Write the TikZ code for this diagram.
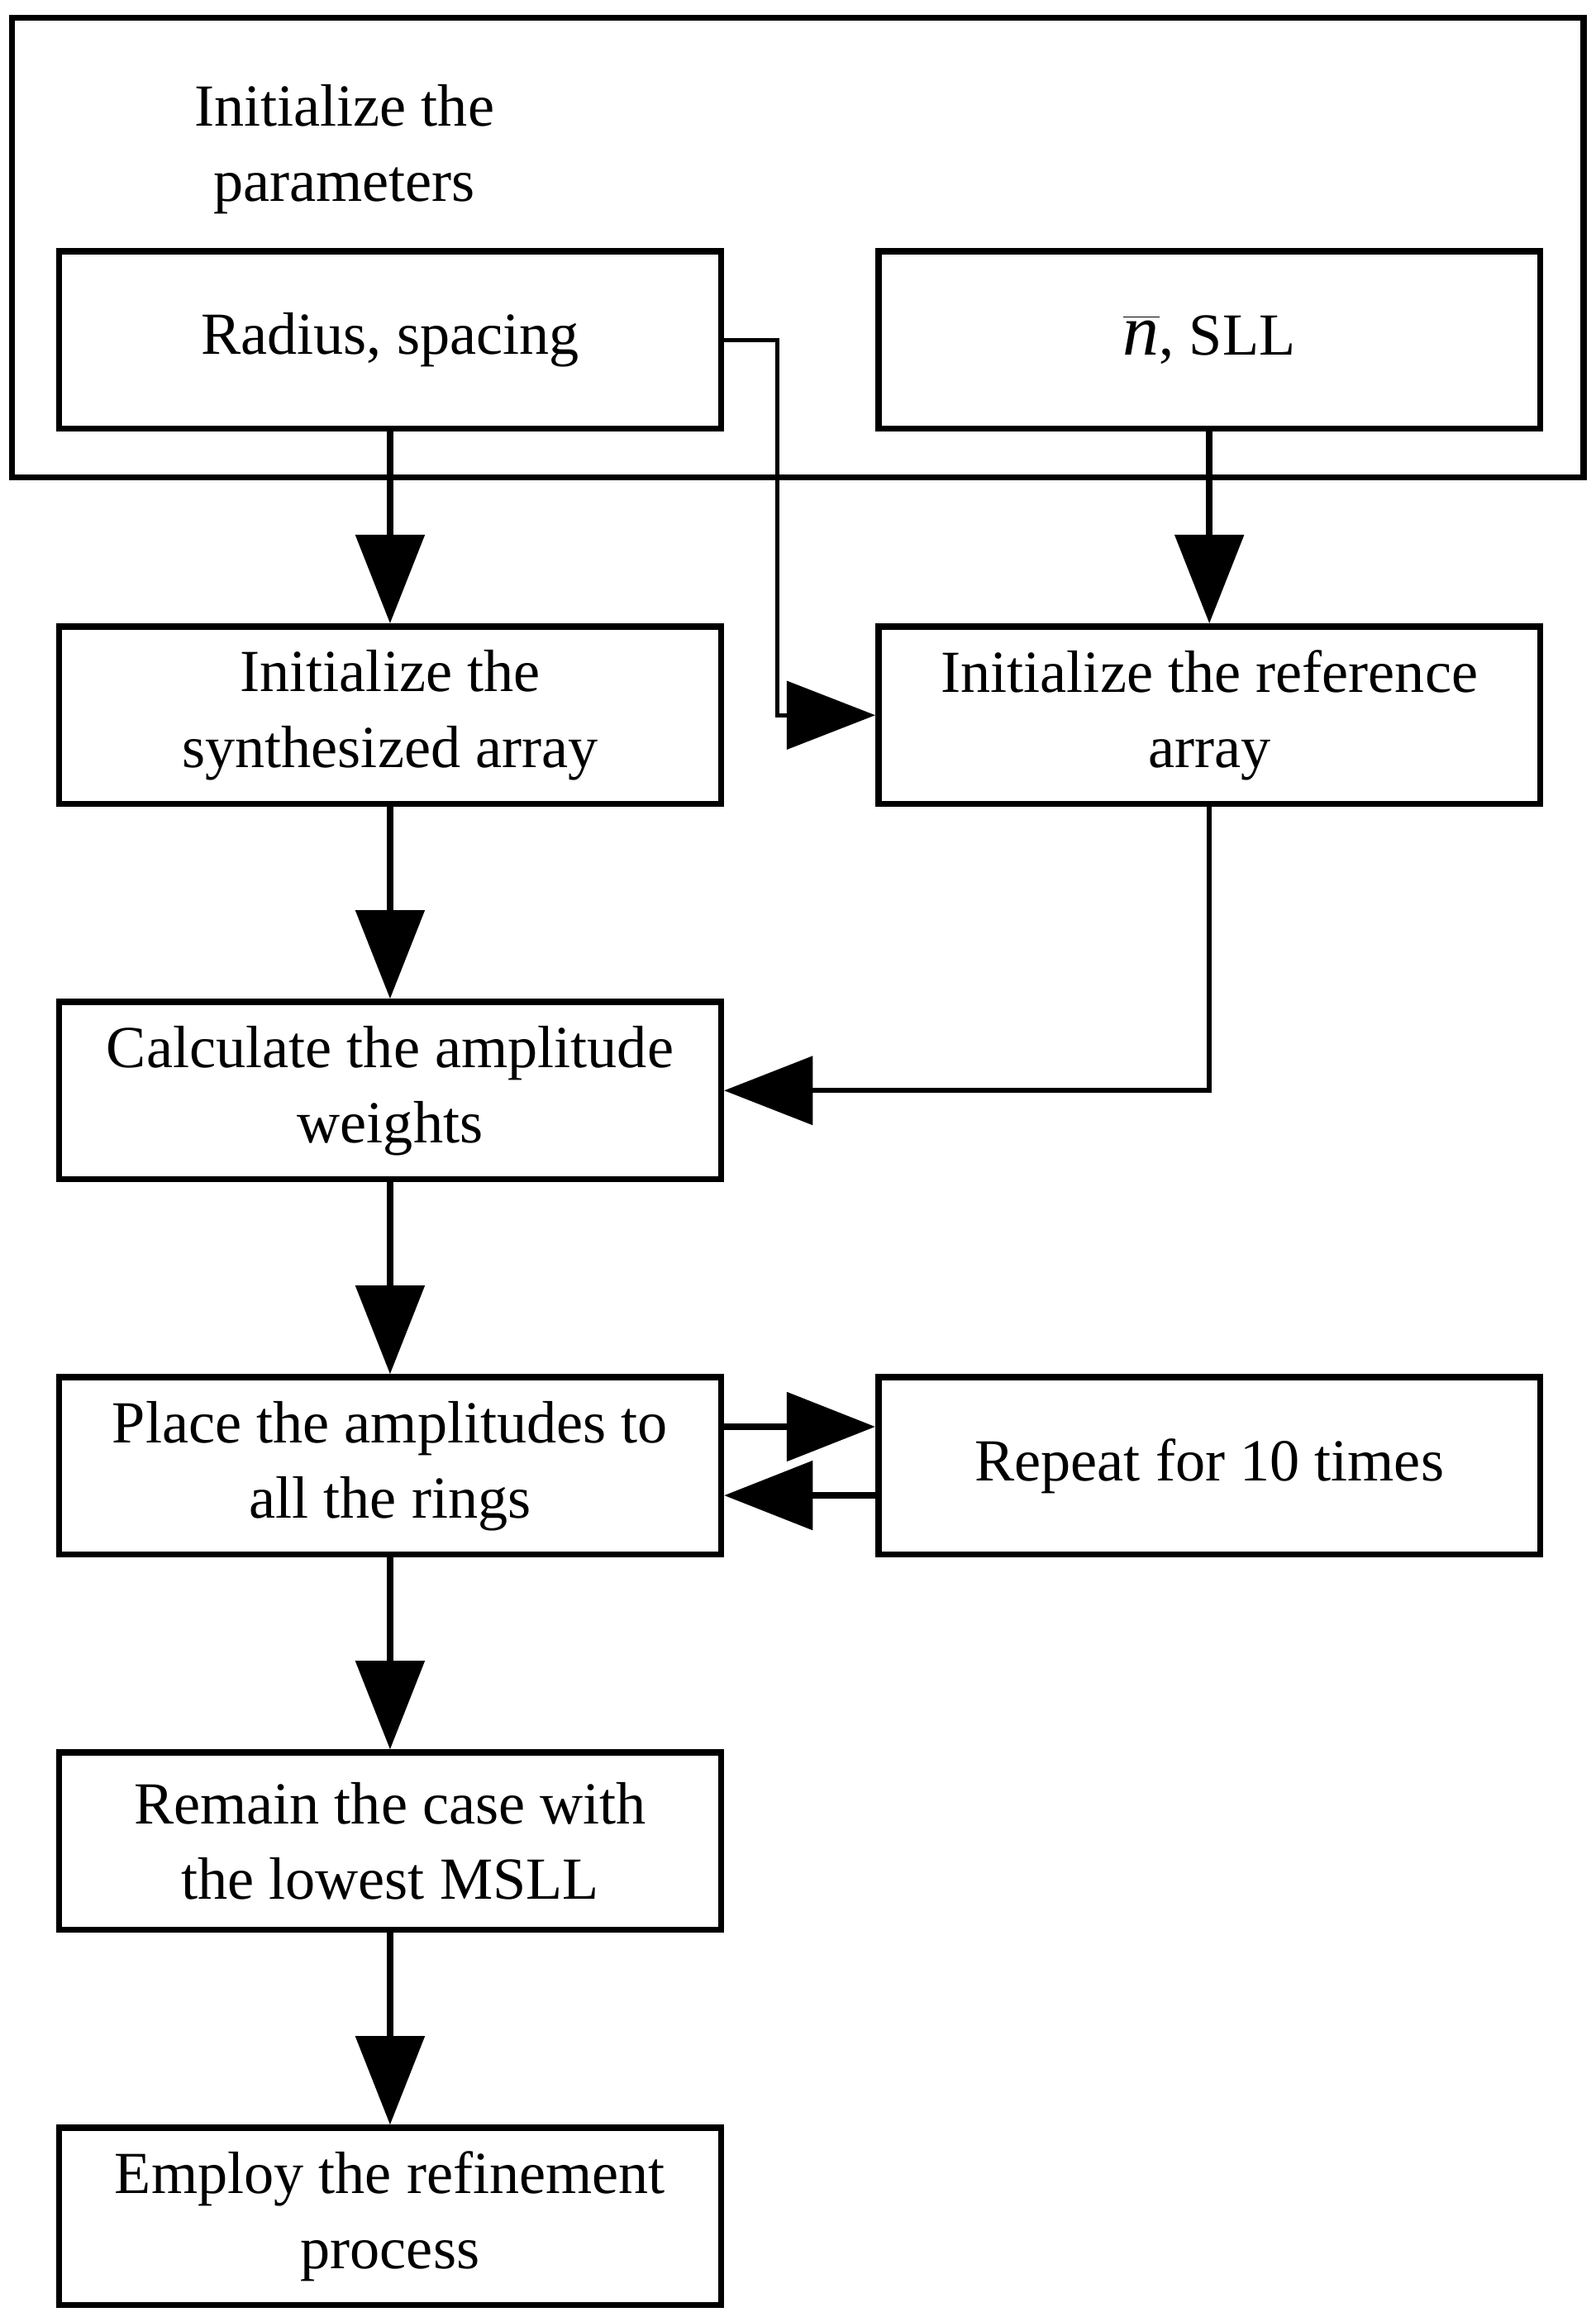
\documentclass[tikz,border=0pt]{standalone}
\usepackage{fontspec}
\setmainfont{Liberation Serif}
\usetikzlibrary{arrows.meta}
\begin{document}
\begin{tikzpicture}[x=0.02cm,y=-0.02cm,
  box/.style={draw,line width=2.4pt,minimum width=8.96cm,minimum height=2.4cm,align=center,inner sep=0pt,font=\fontsize{23}{29}\selectfont},
  arr/.style={line width=2.6pt,-{Triangle[width=0.92cm,length=1.2cm]}},
  thin arr/.style={line width=1.5pt,-{Triangle[width=0.92cm,length=1.2cm]}}]
\useasboundingbox (0,0) rectangle (1080,1568);
\node[draw,line width=2.4pt,minimum width=21.28cm,minimum height=6.22cm,inner sep=0pt] (outer) at (540,167.5) {};
\node[align=center,font=\fontsize{23}{29}\selectfont] (title) at (233,101) {Initialize the\\parameters};
\node[box] (rad) at (264,230) {Radius, spacing};
\node[box] (nb) at (818.5,230) {$\overline{\hbox{\fontsize{28}{29}\selectfont\itshape n}}$, SLL};
\node[box] (syn) at (264,484) {Initialize the\\synthesized array};
\node[box] (ref) at (818.5,484) {Initialize the reference\\array};
\node[box] (calc) at (264,738) {Calculate the amplitude\\weights};
\node[box] (place) at (264,992) {Place the amplitudes to\\all the rings};
\node[box] (rep) at (818.5,992) {Repeat for 10 times};
\node[box] (rem) at (264,1246) {Remain the case with\\the lowest MSLL};
\node[box] (emp) at (264,1500) {Employ the refinement\\process};
\draw[arr] (rad) -- (syn);
\draw[arr] (nb) -- (ref);
\draw[arr] (syn) -- (calc);
\draw[arr] (calc) -- (place);
\draw[arr] (place) -- (rem);
\draw[arr] (rem) -- (emp);
\draw[thin arr] (rad.east) -- ++(36,0) |- (ref.west);
\draw[arr,line width=2pt] (ref.south) |- (calc.east);
\draw[arr] ([yshift=0.53cm]place.east) -- ([yshift=0.53cm]rep.west);
\draw[arr] ([yshift=-0.4cm]rep.west) -- ([yshift=-0.4cm]place.east);
\end{tikzpicture}
\end{document}
